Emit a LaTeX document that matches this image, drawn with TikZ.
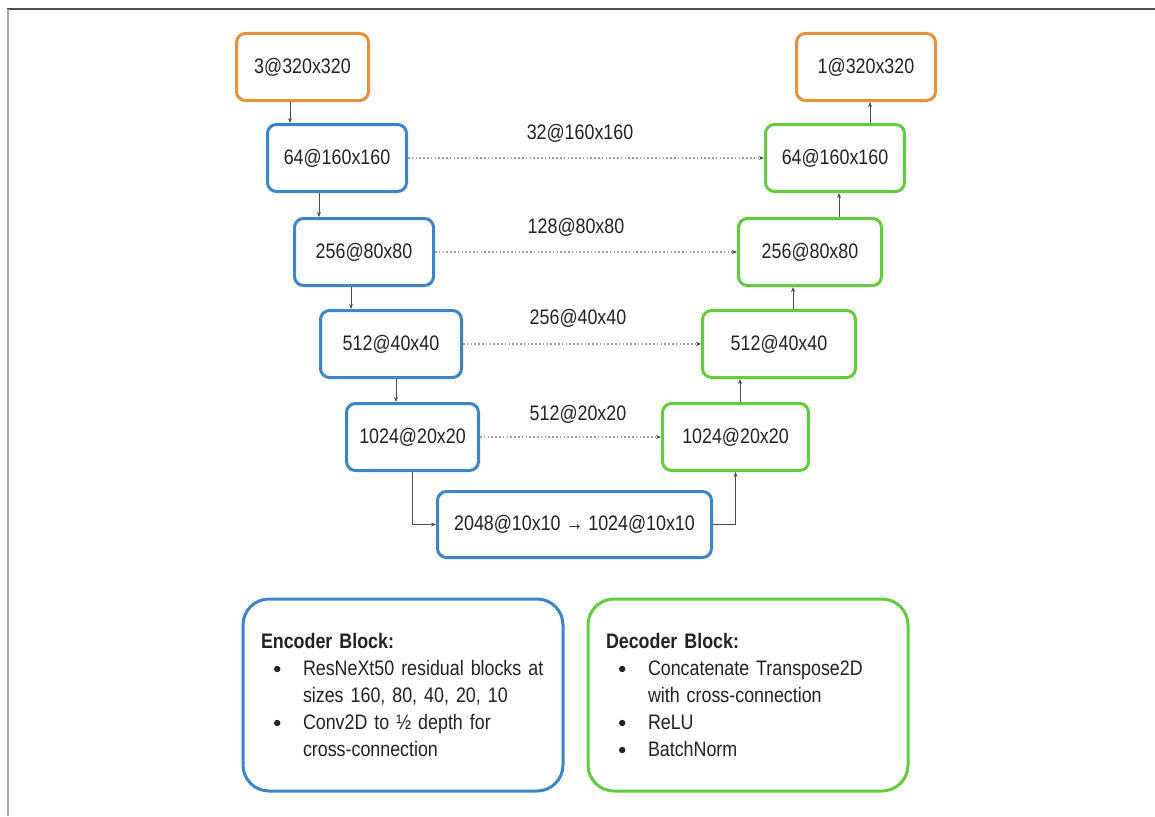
\documentclass[tikz,border=0pt]{standalone}
\usepackage{fontspec}
\setmainfont{Liberation Sans}[FakeStretch=0.85]
\usetikzlibrary{arrows.meta}

\definecolor{encblue}{RGB}{61,133,198}
\definecolor{decgreen}{RGB}{98,204,62}
\definecolor{ioorange}{RGB}{228,146,60}
\definecolor{inkgray}{RGB}{34,34,34}

\tikzset{
  blk/.style={draw, line width=3pt, rounded corners=9pt, minimum height=67pt,
    inner sep=0pt, font=\fontsize{21}{25}\selectfont, text=inkgray, fill=white},
  encbox/.style={blk, draw=encblue},
  decbox/.style={blk, draw=decgreen},
  iobox/.style={blk, draw=ioorange},
  notebox/.style={draw, line width=3pt, rounded corners=26pt, minimum height=192pt,
    text width=284pt, inner xsep=18pt, align=left, text=inkgray,
    font=\fontsize{21}{27}\selectfont},
  flow/.style={draw=black!70, line width=0.9pt, -{Stealth[length=5pt,width=4pt]}},
  skip/.style={draw=black!38, line width=2pt, dash pattern=on 1.6pt off 2.2pt,
    -{Stealth[length=5pt,width=4pt,color=black!70]}},
  skiplabel/.style={font=\fontsize{21}{25}\selectfont, text=inkgray, inner sep=0pt},
}
% list bullet: a filled dot set in line with the text
\newcommand{\bdot}{\tikz[baseline=-6.5pt, x=1pt, y=1pt]\fill[inkgray] (0,0) circle[radius=3.2pt];}
\newcommand{\bitem}{\hspace*{13pt}\makebox[29pt][l]{\bdot}}
\newcommand{\bcont}{\hspace*{42pt}}

\begin{document}
\begin{tikzpicture}[x=1pt, y=-1pt]
  \useasboundingbox (0,0) rectangle (1155,816);
  \fill[white] (0,0) rectangle (1155,816);

  % page frame
  \draw[black!70, line width=2pt] (7,9) -- (1155,9);
  \draw[black!35, line width=2pt] (8,9) -- (8,816);

  % encoder column
  \node[iobox,  minimum width=132pt] (in) at (302.5,67) {3@320x320};
  \node[encbox, minimum width=139pt] (e1) at (337,158) {64@160x160};
  \node[encbox, minimum width=139pt] (e2) at (364,252) {256@80x80};
  \node[encbox, minimum width=141pt] (e3) at (391,344) {512@40x40};
  \node[encbox, minimum width=132pt] (e4) at (412.5,437) {1024@20x20};

  % bottleneck
  \node[encbox, minimum width=274pt, minimum height=66pt] (b) at (574.5,524.5)
    {2048@10x10 → 1024@10x10};

  % decoder column
  \node[iobox,  minimum width=139pt] (out) at (866,67) {1@320x320};
  \node[decbox, minimum width=139pt] (d1) at (835,158) {64@160x160};
  \node[decbox, minimum width=143pt] (d2) at (810,252) {256@80x80};
  \node[decbox, minimum width=153pt] (d3) at (779,344) {512@40x40};
  \node[decbox, minimum width=146pt] (d4) at (735.5,437) {1024@20x20};

  % x positions of the vertical links
  \coordinate (xa) at (290,0);
  \coordinate (xb) at (319,0);
  \coordinate (xc) at (351,0);
  \coordinate (xd) at (396,0);
  \coordinate (xe) at (740,0);
  \coordinate (xf) at (793,0);
  \coordinate (xg) at (839,0);
  \coordinate (xh) at (870,0);

  % downsampling path
  \draw[flow] (in.south -| xa) -- (e1.north -| xa);
  \draw[flow] (e1.south -| xb) -- (e2.north -| xb);
  \draw[flow] (e2.south -| xc) -- (e3.north -| xc);
  \draw[flow] (e3.south -| xd) -- (e4.north -| xd);
  \draw[flow] (e4.south) |- (b.west);

  % upsampling path
  \draw[flow] (b.east) -| (d4.south);
  \draw[flow] (d4.north -| xe) -- (d3.south -| xe);
  \draw[flow] (d3.north -| xf) -- (d2.south -| xf);
  \draw[flow] (d2.north -| xg) -- (d1.south -| xg);
  \draw[flow] (d1.north -| xh) -- (out.south -| xh);

  % cross-connections
  \draw[skip] (e1.east) -- (d1.west);
  \draw[skip] (e2.east) -- (d2.west);
  \draw[skip] (e3.east) -- (d3.west);
  \draw[skip] (e4.east) -- (d4.west);
  \node[skiplabel] (s1) at (580,133) {32@160x160};
  \node[skiplabel] (s2) at (576,227) {128@80x80};
  \node[skiplabel] (s3) at (578,318) {256@40x40};
  \node[skiplabel] (s4) at (578,414) {512@20x20};

  % legend
  \node[notebox, draw=encblue] (encnote) at (403,695) {%
    \textbf{Encoder Block:}\\
    \bitem ResNeXt50 residual blocks at\\
    \bcont sizes 160, 80, 40, 20, 10\\
    \bitem Conv2D to ½ depth for\\
    \bcont cross-connection};
  \node[notebox, draw=decgreen] (decnote) at (748,695) {%
    \textbf{Decoder Block:}\\
    \bitem Concatenate Transpose2D\\
    \bcont with cross-connection\\
    \bitem ReLU\\
    \bitem BatchNorm};
\end{tikzpicture}
\end{document}
